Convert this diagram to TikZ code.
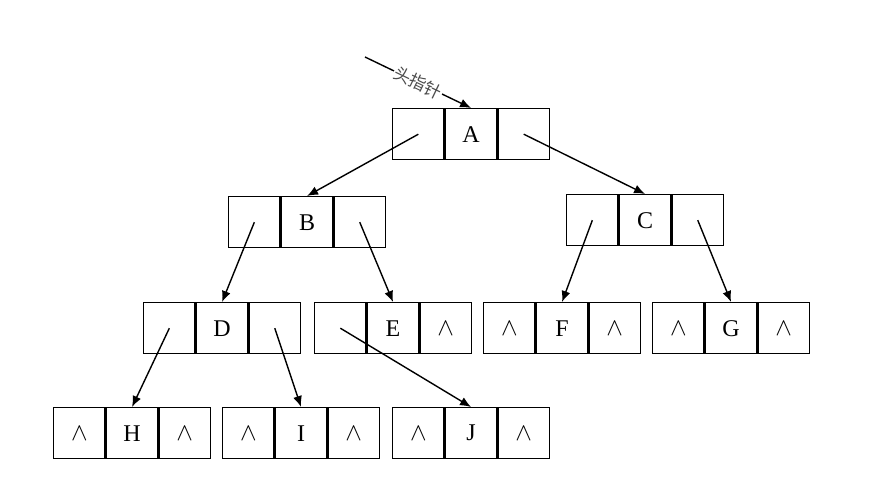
\documentclass[tikz,border=0pt]{standalone}
\usepackage{fontspec}
\setmainfont{Liberation Serif}
\newfontfamily\cjk{Noto Sans CJK SC}
\usetikzlibrary{arrows.meta}
\newcommand\nullsym{{\fontsize{30}{30}\selectfont$\wedge$}}
\newcommand\trinode[6]{%
  \node[cell] (#1L) at (#2,#3) {#4};
  \node[cell] (#1) at (#1L.north east) {#5};
  \node[cell] (#1R) at (#1.north east) {#6};}
\begin{document}
\begin{tikzpicture}[x=1pt,y=-1pt,
  cell/.style={draw, line width=1.4pt, minimum width=51.3pt, minimum height=51pt,
    inner sep=0pt, anchor=north west, font=\fontsize{24}{26}\selectfont},
  ptr/.style={line width=1.4pt, -{Latex[length=11pt,width=9pt]}}]
\useasboundingbox (0,0) rectangle (884,497);
\trinode{A}{392}{108}{}{A}{}
\trinode{B}{228}{196}{}{B}{}
\trinode{C}{566}{194}{}{C}{}
\trinode{D}{143}{302}{}{D}{}
\trinode{E}{314}{302}{}{E}{\nullsym}
\trinode{F}{483}{302}{\nullsym}{F}{\nullsym}
\trinode{G}{652}{302}{\nullsym}{G}{\nullsym}
\trinode{H}{53}{407}{\nullsym}{H}{\nullsym}
\trinode{I}{222}{407}{\nullsym}{I}{\nullsym}
\trinode{J}{392}{407}{\nullsym}{J}{\nullsym}
\coordinate (hp) at (365,57);
\draw[ptr] (hp) -- node[sloped, fill=white, inner sep=1pt, text=black!70, font=\cjk\fontsize{17}{19}\selectfont] {头指针} (A.north);
\draw[ptr] (AL.center) -- (B.north);
\draw[ptr] (AR.center) -- (C.north);
\draw[ptr] (BL.center) -- (D.north);
\draw[ptr] (BR.center) -- (E.north);
\draw[ptr] (CL.center) -- (F.north);
\draw[ptr] (CR.center) -- (G.north);
\draw[ptr] (DL.center) -- (H.north);
\draw[ptr] (DR.center) -- (I.north);
\draw[ptr] (EL.center) -- (J.north);
\end{tikzpicture}
\end{document}
